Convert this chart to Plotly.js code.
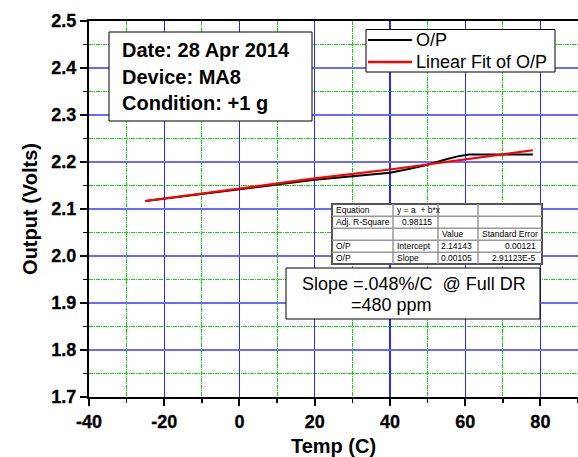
<!DOCTYPE html>
<html><head><meta charset="utf-8">
<script src="https://cdn.plot.ly/plotly-3.0.1.min.js"></script>
<style>html,body{margin:0;padding:0;background:#fff}#chart{width:578px;height:457px}
.xtick text,.ytick text{stroke:#000;stroke-width:0.3px}</style>
</head><body><div id="chart"></div>
<script>
// ---- data ----
const tempOP = [-25,-20,-15,-10,-5,0,5,10,15,20,25,30,35,40,45,50,55,58,61,65,70,75,78];
const voltsOP = [2.117,2.122,2.127,2.132,2.137,2.142,2.147,2.153,2.158,2.162,2.166,2.170,2.173,2.177,2.185,2.194,2.206,2.212,2.216,2.216,2.216,2.216,2.216];
const tempFit = [-25,0,20,40,60,78];
const voltsFit = [2.117,2.143,2.165,2.184,2.205,2.225];
const xTickVals = [-40,-20,0,20,40,60,80];
const yTickVals = [1.7,1.8,1.9,2.0,2.1,2.2,2.3,2.4,2.5];
const seriesNames = ['O/P','Linear Fit of O/P'];
const infoLines = ['Date: 28 Apr 2014','Device: MA8','Condition: +1 g'];
const tableRows = [
  ['Equation','y = a  + b*x','',''],
  ['Adj. R-Square','0.98115','',''],
  ['','','Value','Standard Error'],
  ['O/P','Intercept','2.14143','0.00121'],
  ['O/P','Slope','0.00105','2.91123E-5']
];
const slopeLines = ['Slope =.048%/C  @ Full DR','=480 ppm'];

// ---- geometry helpers (pixel -> paper) ----
const L=89, T=21, B=60, W=578, H=457;
const PW = W-L, PH = H-T-B;
const px = x => (x-L)/PW;
const py = y => (H-B-y)/PH;

const FONT = 'Liberation Sans, Arial, sans-serif';
const shapes = [], ann = [];
const colors = ['#000000','#ff0000'];

// legend (drawn as box)
shapes.push({type:'rect',xref:'paper',yref:'paper',x0:px(366),x1:px(555),y0:py(72),y1:py(29.5),
  line:{color:'#000',width:1},fillcolor:'#fff',layer:'above'});
seriesNames.forEach((n,i)=>{
  const yy = 40 + i*22;
  shapes.push({type:'line',xref:'paper',yref:'paper',x0:px(368),x1:px(412),y0:py(yy),y1:py(yy),
    line:{color:colors[i],width:i?2.5:2},layer:'above'});
  ann.push({xref:'paper',yref:'paper',x:px(414),y:py(yy),xanchor:'left',yanchor:'middle',text:n,showarrow:false,
    font:{family:FONT,size:18,color:'#000'}});
});

// info box
shapes.push({type:'rect',xref:'paper',yref:'paper',x0:px(109),x1:px(312),y0:py(121),y1:py(32),
  line:{color:'#000',width:1},fillcolor:'#fff',layer:'above'});
infoLines.forEach((t,i)=>ann.push({xref:'paper',yref:'paper',x:px(120),y:py(50+i*26.5),xanchor:'left',yanchor:'middle',
  text:'<b>'+t+'</b>',showarrow:false,font:{family:FONT,size:20,color:'#000'}}));

// table
const colX=[332,393,438,478,542], rowY=[204,216.3,228.3,240.3,252.3,264];
shapes.push({type:'rect',xref:'paper',yref:'paper',x0:px(332),x1:px(542),y0:py(264),y1:py(204),
  line:{color:'#555',width:2},fillcolor:'#fff',layer:'above'});
for(let i=1;i<colX.length-1;i++) shapes.push({type:'line',xref:'paper',yref:'paper',x0:px(colX[i]),x1:px(colX[i]),y0:py(204),y1:py(264),line:{color:'#999',width:1.5},layer:'above'});
for(let j=1;j<rowY.length-1;j++) shapes.push({type:'line',xref:'paper',yref:'paper',x0:px(332),x1:px(542),y0:py(rowY[j]),y1:py(rowY[j]),line:{color:'#999',width:1.5},layer:'above'});
tableRows.forEach((row,j)=>row.forEach((t,i)=>{
  if(!t) return;
  const isNum = /^[0-9]/.test(t);
  const ycen = (rowY[j]+rowY[j+1])/2;
  let x, xa;
  if(isNum){ x = colX[i+1]-4; xa='right'; }
  else { x = colX[i]+2; xa='left'; }
  ann.push({xref:'paper',yref:'paper',x:px(x),y:py(ycen),xanchor:xa,yanchor:'middle',text:t,showarrow:false,
    font:{family:FONT,size:8.5,color:'#000'}});
}));

// slope box
shapes.push({type:'rect',xref:'paper',yref:'paper',x0:px(286),x1:px(540),y0:py(319),y1:py(268),
  line:{color:'#000',width:1},fillcolor:'#fff',layer:'above'});
ann.push({xref:'paper',yref:'paper',x:px(414),y:py(284),xanchor:'center',yanchor:'middle',text:slopeLines[0],showarrow:false,font:{family:FONT,size:18,color:'#000'}});
ann.push({xref:'paper',yref:'paper',x:px(391),y:py(305),xanchor:'center',yanchor:'middle',text:slopeLines[1],showarrow:false,font:{family:FONT,size:18,color:'#000'}});

const traces = [
  {x:tempOP,y:voltsOP,type:'scatter',mode:'lines',name:seriesNames[0],line:{color:colors[0],width:2}},
  {x:tempFit,y:voltsFit,type:'scatter',mode:'lines',name:seriesNames[1],line:{color:colors[1],width:2.2}}
];

const tickFont = {family:'Arial, Liberation Sans, sans-serif',size:18,weight:700,color:'#000'};
const layout = {
  width:W,height:H,margin:{l:L,r:0,t:T,b:B},
  paper_bgcolor:'#fff',plot_bgcolor:'#fff',
  showlegend:false,
  xaxis:{range:[-40,90],tickvals:xTickVals,ticktext:xTickVals.map(String),
    showline:true,linecolor:'#000',linewidth:2,mirror:true,
    ticks:'outside',ticklen:7,tickwidth:2,tickcolor:'#000',
    showgrid:true,gridcolor:'#2a2aff',gridwidth:1.2,zeroline:false,
    minor:{dtick:10,tick0:-40,ticks:'outside',ticklen:4,tickwidth:1.5,tickcolor:'#000',showgrid:true,gridcolor:'#00e000',griddash:'4px,1px,1px,1px',gridwidth:1},
    tickfont:tickFont,
    title:{text:'<b>Temp (C)</b>',font:{family:FONT,size:20,color:'#000'},standoff:10}},
  yaxis:{range:[1.7,2.5],tickvals:yTickVals,ticktext:yTickVals.map(v=>v.toFixed(1)),
    showline:true,linecolor:'#000',linewidth:2,
    ticks:'outside',ticklen:7,tickwidth:2,tickcolor:'#000',
    showgrid:true,gridcolor:'#6a6aff',gridwidth:1.5,zeroline:false,
    minor:{dtick:0.05,tick0:1.7,ticks:'outside',ticklen:4,tickwidth:1.5,tickcolor:'#000',showgrid:true,gridcolor:'#00e000',griddash:'4px,1px,1px,1px',gridwidth:1},
    tickfont:tickFont,
    title:{text:'<b>Output (Volts)</b>',font:{family:FONT,size:20,color:'#000'},standoff:8}},
  shapes:shapes,annotations:ann
};
Plotly.newPlot('chart',traces,layout,{displayModeBar:false,staticPlot:true});
</script></body></html>
